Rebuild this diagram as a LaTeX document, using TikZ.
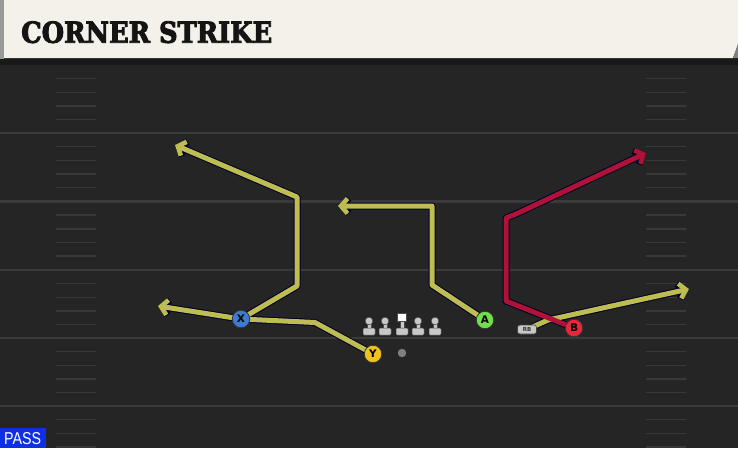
\documentclass[tikz,border=0pt]{standalone}
\usepackage{fontspec}
\usetikzlibrary{arrows.meta}
\newfontfamily\titlefont{DejaVu Serif Condensed Bold}[FakeBold=3]
\newfontfamily\lblfont{DejaVu Sans Bold}
\newfontfamily\passfont{Liberation Sans}
\definecolor{field}{HTML}{252525}
\definecolor{yardc}{HTML}{3A3A3A}
\definecolor{hashc}{HTML}{383838}
\definecolor{cream}{HTML}{F4F1EA}
\definecolor{routey}{HTML}{BDBD52}
\definecolor{router}{HTML}{AE1236}
\definecolor{pblue}{HTML}{3F7BD6}
\definecolor{pyellow}{HTML}{F0C21E}
\definecolor{pgreen}{HTML}{72DE4C}
\definecolor{pred}{HTML}{E6283A}
\definecolor{passblue}{HTML}{0F2FE6}
\definecolor{linec}{HTML}{C8C8C8}
\tikzset{
  yard/.style={draw=yardc, line width=2.2pt},
  hashm/.style={draw=hashc, line width=1.4pt},
  outl/.style={draw=black!85!blue, line width=7pt, line join=round},
  yroute/.style={draw=routey, line width=5pt, line join=round},
  rroute/.style={draw=router, line width=5pt, line join=round},
  tipo/.style={-{Straight Barb[length=6.5pt,width=15pt,line width=6.6pt]}},
  tipc/.style={-{Straight Barb[length=6.5pt,width=15pt,line width=4.6pt]}},
  player/.style={circle, draw=black!80, line width=0.8pt, minimum size=17.5pt, inner sep=0pt, font=\lblfont\fontsize{10.5}{10.5}\selectfont, text=black},
  lman/.style={fill=linec, draw=black!70, line width=0.5pt},
}
\begin{document}
\begin{tikzpicture}[x=1pt,y=-1pt]
\useasboundingbox (0,0) rectangle (738,448);
\fill[field] (0,0) rectangle (738,448);
% header
\fill[black!90] (0,58) rectangle (738,65);
\fill[black!40] (0,0) rectangle (4,59);
\fill[cream] (4,0) -- (738,0) -- (738,44) -- (733,58) -- (4,58) -- cycle;
\fill[black!50] (738,44) -- (733,58) -- (738,58) -- cycle;
\node[anchor=west, inner sep=0pt, text=black!92] (title) at (21,32.2)
  {\resizebox{251pt}{21.5pt}{\titlefont CORNER STRIKE}};
% yard lines
\foreach \y in {133,201.5,270,338,406}
  \draw[yard] (0,\y) -- (738,\y);
% hash marks
\foreach \b in {65,133,201.5,270,338,406}
  \foreach \k in {1,2,3,4}{
    \draw[hashm] (56,\b+13.65*\k) -- (96,\b+13.65*\k);
    \draw[hashm] (646,\b+13.65*\k) -- (686,\b+13.65*\k);
  }
% players positions
\coordinate (Xp) at (241,319);
\coordinate (Yp) at (373,354);
\coordinate (Ap) at (485,320);
\coordinate (Bp) at (574,328);
\coordinate (RBp) at (527,329.5);
% route coordinates
\coordinate (x1) at (158,306);
\coordinate (x2) at (297,286);
\coordinate (x3) at (297,197);
\coordinate (x4) at (175,145);
\coordinate (y1) at (315,322.5);
\coordinate (a1) at (432,285);
\coordinate (a2) at (432,206);
\coordinate (a3) at (338,206);
\coordinate (r1) at (548,320);
\coordinate (r2) at (689,289);
\coordinate (b1) at (506,301);
\coordinate (b2) at (506,218);
\coordinate (b3) at (516,214);
\coordinate (b4) at (646,153);
% outlines
\draw[outl,tipo] (Xp) -- (x1);
\draw[outl,tipo] (Xp) -- (x2) -- (x3) -- (x4);
\draw[outl] (Yp) -- (y1) -- (Xp);
\draw[outl,tipo] (Ap) -- (a1) -- (a2) -- (a3);
\draw[outl,tipo] (RBp) -- (r1) -- (r2);
\draw[outl,tipo] (Bp) -- (b1) -- (b2) -- (b3) -- (b4);
% routes
\draw[yroute,tipc] (Xp) -- (x1);
\draw[yroute,tipc] (Xp) -- (x2) -- (x3) -- (x4);
\draw[yroute] (Yp) -- (y1) -- (Xp);
\draw[yroute,tipc] (Ap) -- (a1) -- (a2) -- (a3);
\draw[yroute,tipc] (RBp) -- (r1) -- (r2);
\draw[rroute,tipc] (Bp) -- (b1) -- (b2) -- (b3) -- (b4);
% linemen
\foreach \x/\n in {369/l1,385/l2,418/l4,435/l5}{
  \fill[lman] (\x-1.8,321) rectangle (\x+1.8,330);
  \fill[lman, rounded corners=1pt] (\x-6,328) rectangle (\x+6,335);
  \fill[lman] (\x,321) circle (3.8);
  \coordinate (\n) at (\x,321);
}
\fill[lman] (400.2,321) rectangle (403.8,330);
\fill[lman, rounded corners=1pt] (396,328) rectangle (408,335);
\filldraw[fill=white, draw=black!70, line width=0.5pt] (397.5,313.5) rectangle (406.5,321.5);
\coordinate (l3) at (402,318);
% QB
\fill[black!50] (402,353) circle (4.2) node (qb) {};
% players
\node[player, fill=pblue] (X) at (Xp) {X};
\node[player, fill=pyellow] (Y) at (Yp) {Y};
\node[player, fill=pgreen] (A) at (Ap) {A};
\node[player, fill=pred] (B) at (Bp) {B};
\node[fill=black!22, draw=black!75, line width=0.6pt, rounded corners=2.5pt, minimum width=19pt, minimum height=9pt, inner sep=0pt, font=\lblfont\fontsize{5.5}{5.5}\selectfont, text=black!80] (RB) at (RBp) {RB};
% pass label
\fill[passblue] (0,428) rectangle (46,448);
\node[anchor=west, inner sep=0pt, text=white] (pass) at (4,439)
  {\resizebox{37pt}{12pt}{\passfont PASS}};
\end{tikzpicture}
\end{document}
